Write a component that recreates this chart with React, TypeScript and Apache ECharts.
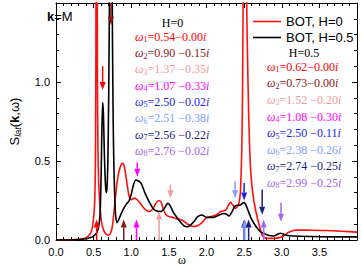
import React, { useEffect, useRef } from 'react';
import * as echarts from 'echarts';

// H=0 curve
const redW = [0, 0.1, 0.2, 0.3, 0.35, 0.4, 0.44, 0.47, 0.49, 0.51, 0.52, 0.525, 0.53, 0.535, 0.545, 0.55, 0.555, 0.56, 0.57, 0.59, 0.61, 0.64, 0.67, 0.7, 0.73, 0.75, 0.78, 0.81, 0.84, 0.87, 0.89, 0.91, 0.94, 0.97, 1.0, 1.04, 1.08, 1.13, 1.18, 1.24, 1.29, 1.33, 1.37, 1.4, 1.43, 1.47, 1.53, 1.6, 1.68, 1.75, 1.82, 1.88, 1.94, 2.0, 2.07, 2.13, 2.19, 2.26, 2.29, 2.32, 2.35, 2.38, 2.41, 2.43, 2.45, 2.47, 2.48, 2.49, 2.5, 2.51, 2.52, 2.54, 2.56, 2.58, 2.6, 2.62, 2.64, 2.67, 2.7, 2.74, 2.79, 2.9, 2.97, 3.02, 3.1, 3.2, 3.4, 3.6, 3.8, 4.0];
const redS = [0, 0.001, 0.002, 0.005, 0.008, 0.015, 0.03, 0.055, 0.1, 0.2, 0.35, 0.6, 1.1, 2.2, 2.2, 1.1, 0.7, 0.5, 0.33, 0.18, 0.1, 0.055, 0.035, 0.03, 0.05, 0.09, 0.22, 0.36, 0.44, 0.48, 0.485, 0.46, 0.37, 0.28, 0.255, 0.265, 0.255, 0.225, 0.195, 0.18, 0.2, 0.235, 0.25, 0.235, 0.19, 0.155, 0.145, 0.135, 0.125, 0.1, 0.085, 0.09, 0.11, 0.14, 0.15, 0.158, 0.18, 0.19, 0.22, 0.238, 0.22, 0.2, 0.21, 0.23, 0.3, 0.6, 1.0, 1.8, 2.8, 2.8, 2.0, 1.3, 0.8, 0.5, 0.36, 0.28, 0.22, 0.15, 0.095, 0.03, 0.012, 0.01, 0.015, 0.025, 0.05, 0.063, 0.062, 0.06, 0.055, 0.05];

// H=0.5 curve
const blackW = [0, 0.2, 0.3, 0.4, 0.45, 0.5, 0.54, 0.56, 0.58, 0.59, 0.6, 0.61, 0.62, 0.63, 0.64, 0.65, 0.66, 0.67, 0.68, 0.69, 0.7, 0.71, 0.72, 0.73, 0.74, 0.75, 0.76, 0.77, 0.78, 0.79, 0.81, 0.83, 0.86, 0.9, 0.94, 0.97, 1.0, 1.03, 1.06, 1.09, 1.13, 1.18, 1.24, 1.29, 1.33, 1.39, 1.44, 1.47, 1.49, 1.52, 1.56, 1.62, 1.7, 1.75, 1.79, 1.83, 1.88, 1.94, 2.0, 2.09, 2.17, 2.23, 2.26, 2.3, 2.34, 2.38, 2.45, 2.5, 2.52, 2.55, 2.6, 2.66, 2.72, 2.81, 2.89, 2.94, 2.98, 3.02, 3.06, 3.15, 3.4, 3.7, 4.0];
const blackS = [0, 0.001, 0.003, 0.008, 0.014, 0.025, 0.045, 0.07, 0.13, 0.22, 0.42, 0.7, 0.87, 0.8, 0.6, 0.43, 0.33, 0.3, 0.35, 0.52, 0.9, 1.5, 2.4, 2.8, 2.2, 1.3, 0.75, 0.45, 0.28, 0.17, 0.11, 0.125, 0.16, 0.2, 0.23, 0.247, 0.29, 0.35, 0.38, 0.375, 0.36, 0.3, 0.24, 0.2, 0.185, 0.18, 0.2, 0.225, 0.232, 0.215, 0.175, 0.135, 0.09, 0.084, 0.095, 0.115, 0.147, 0.158, 0.143, 0.143, 0.158, 0.168, 0.165, 0.152, 0.18, 0.215, 0.222, 0.238, 0.225, 0.19, 0.13, 0.084, 0.052, 0.032, 0.025, 0.035, 0.043, 0.038, 0.03, 0.025, 0.022, 0.02, 0.02];

// Mode frequencies
const modeColors = ['#ff0000', '#8b1414', '#f59a9a', '#ff00ff', '#1e1eea', '#7f9cff', '#1c1c7e', '#a066f0'];
const h0Re = [0.54, 0.90, 1.37, 1.07, 2.50, 2.51, 2.56, 2.76];
const h0Im = [0.00, 0.15, 0.35, 0.33, 0.02, 0.38, 0.22, 0.02];
const h05Re = [0.62, 0.73, 1.52, 1.08, 2.50, 2.38, 2.74, 2.99];
const h05Im = [0.00, 0.00, 0.20, 0.30, 0.11, 0.26, 0.25, 0.25];
// arrow extents (data units)
const upArrowTip = [0.13, 0.13, 0.18, 0.13, 0.13, 0.13, 0.13, 0.13];
const downArrowTop = [1.10, 1.52, 0.35, 0.49, 0.36, 0.37, 0.32, 0.235];
const downArrowTip = [0.95, 1.36, 0.265, 0.40, 0.25, 0.265, 0.16, 0.115];

const seriesNames = ['BOT, H=0', 'BOT, H=0.5'];

const SERIF = '"Liberation Serif", serif';
const SANS = '"Liberation Sans", sans-serif';

function modeText(re: number[], im: number[], i: number) {
  const sp = im[i] !== 0 ? ' ' : '';
  return `{w|ω}{s|${i + 1}}{n|=${re[i].toFixed(2)}${sp}−${im[i].toFixed(2)}}{i|i}`;
}
function modeRich(color: string) {
  return {
    w: { fontFamily: SERIF, fontSize: 12, fontStyle: 'italic', fill: color, lineHeight: 14 },
    s: { fontFamily: SERIF, fontSize: 8, fill: color, lineHeight: 8, verticalAlign: 'bottom' },
    n: { fontFamily: SERIF, fontSize: 12, fill: color, lineHeight: 14 },
    i: { fontFamily: SERIF, fontSize: 12, fontStyle: 'italic', fill: color, lineHeight: 14 },
  };
}

export default function App() {
  const ref = useRef<HTMLDivElement>(null);
  useEffect(() => {
    document.body.style.margin = '0';
    const chart = echarts.init(ref.current!, null, { renderer: 'svg' });

    const arrows: number[][] = [];
    h0Re.forEach((x, i) => arrows.push([x, 0, upArrowTip[i], i]));
    h05Re.forEach((x, i) => arrows.push([x, downArrowTop[i], downArrowTip[i], i]));

    const axisCommon = {
      type: 'value',
      axisLine: { show: true, onZero: false, lineStyle: { color: '#000', width: 1 } },
      axisTick: { show: true, inside: true, length: 5, lineStyle: { color: '#000' } },
      minorTick: { show: true, splitNumber: 5, length: 3, lineStyle: { color: '#000' } },
      splitLine: { show: false },
    };

    const graphics: any[] = [];
    graphics.push({
      type: 'text', x: 47, y: 16,
      style: {
        text: '{b|k}{n|=M}', verticalAlign: 'middle', align: 'left',
        rich: {
          b: { fontFamily: SANS, fontSize: 13, fontWeight: 'bold', fill: '#000' },
          n: { fontFamily: SANS, fontSize: 13, fill: '#000' },
        },
      },
    });
    graphics.push({ type: 'text', x: 172.5, y: 23, style: { text: 'H=0', font: `12px ${SERIF}`, fill: '#000', align: 'center', verticalAlign: 'middle' } });
    graphics.push({ type: 'text', x: 304, y: 52.5, style: { text: 'H=0.5', font: `12px ${SERIF}`, fill: '#000', align: 'center', verticalAlign: 'middle' } });
    for (let i = 0; i < 8; i++) {
      graphics.push({ type: 'text', x: 135, y: 36.7 + i * 16.3, style: { text: modeText(h0Re, h0Im, i), font: `12px ${SERIF}`, fill: modeColors[i], rich: modeRich(modeColors[i]), align: 'left', verticalAlign: 'middle' } });
      graphics.push({ type: 'text', x: 267, y: 66.7 + i * 16.6, style: { text: modeText(h05Re, h05Im, i), font: `12px ${SERIF}`, fill: modeColors[i], rich: modeRich(modeColors[i]), align: 'left', verticalAlign: 'middle' } });
    }
    graphics.push({ type: 'text', x: 182, y: 259.5, style: { text: 'ω', font: `12px ${SERIF}`, fill: '#000', align: 'center', verticalAlign: 'middle' } });

    chart.setOption({
      animation: false,
      grid: { left: 42.5, right: 5, top: 3, bottom: 27, containLabel: false },
      legend: {
        data: seriesNames,
        orient: 'vertical', left: 248, top: 9,
        icon: 'rect',
        itemWidth: 28, itemHeight: 1.6, itemGap: 1,
        textStyle: { fontSize: 13, fontFamily: SANS, color: '#000', lineHeight: 15 },
      },
      xAxis: [
        { ...axisCommon, min: 0, max: 4, interval: 0.5, position: 'bottom',
          axisLabel: { show: true, fontSize: 11, fontFamily: SANS, color: '#000', margin: 6, showMaxLabel: false, formatter: (v: number) => v.toFixed(1) } },
        { ...axisCommon, min: 0, max: 4, interval: 0.5, position: 'top', axisLabel: { show: false } },
      ],
      yAxis: [
        { ...axisCommon, min: 0, max: 1.5, interval: 0.5, position: 'left',
          axisLabel: { show: true, fontSize: 11, fontFamily: SANS, color: '#000', margin: 6, showMaxLabel: false, formatter: (v: number) => v.toFixed(1) },
          name: '{S|S}{sub|lat}{p|(}{k|k}{p|,ω)}', nameLocation: 'middle', nameGap: 34, nameRotate: 90,
          nameTextStyle: {
            rich: {
              S: { fontFamily: SANS, fontSize: 13, color: '#000', lineHeight: 15 },
              sub: { fontFamily: SANS, fontSize: 9, fontStyle: 'italic', color: '#000', lineHeight: 9, verticalAlign: 'bottom' },
              p: { fontFamily: SANS, fontSize: 13, color: '#000', lineHeight: 15 },
              k: { fontFamily: SANS, fontSize: 13, fontWeight: 'bold', color: '#000', lineHeight: 15 },
            },
          } },
        { ...axisCommon, min: 0, max: 1.5, interval: 0.5, position: 'right', axisLabel: { show: false } },
      ],
      series: [
        { name: seriesNames[0], type: 'line', data: redW.map((w, i) => [w, redS[i]]), symbol: 'none', smooth: 0.25,
          lineStyle: { color: '#ff1010', width: 1.6 }, itemStyle: { color: '#ff1010' }, clip: true, z: 3 },
        { name: seriesNames[1], type: 'line', data: blackW.map((w, i) => [w, blackS[i]]), symbol: 'none', smooth: 0.25,
          lineStyle: { color: '#000', width: 1.6 }, itemStyle: { color: '#000' }, clip: true, z: 4 },
        { name: 'arrows', type: 'custom', data: arrows, z: 6, clip: true,
          renderItem: (params: any, api: any) => {
            const x = api.value(0), ya = api.value(1), yb = api.value(2);
            const col = modeColors[api.value(3)];
            const p0 = api.coord([x, ya]);
            const p1 = api.coord([x, yb]);
            const dir = p1[1] > p0[1] ? 1 : -1;
            const headLen = 8, headW = 3;
            const base = p1[1] - dir * headLen;
            return {
              type: 'group',
              children: [
                { type: 'line', shape: { x1: p0[0], y1: p0[1], x2: p1[0], y2: base }, style: { stroke: col, lineWidth: 1.5 } },
                { type: 'polygon', shape: { points: [[p1[0], p1[1]], [p1[0] - headW, base], [p1[0] + headW, base]] }, style: { fill: col } },
              ],
            };
          } },
      ],
      graphic: graphics,
    });
    return () => chart.dispose();
  }, []);
  return <div ref={ref} style={{ width: 362, height: 267 }} />;
}
